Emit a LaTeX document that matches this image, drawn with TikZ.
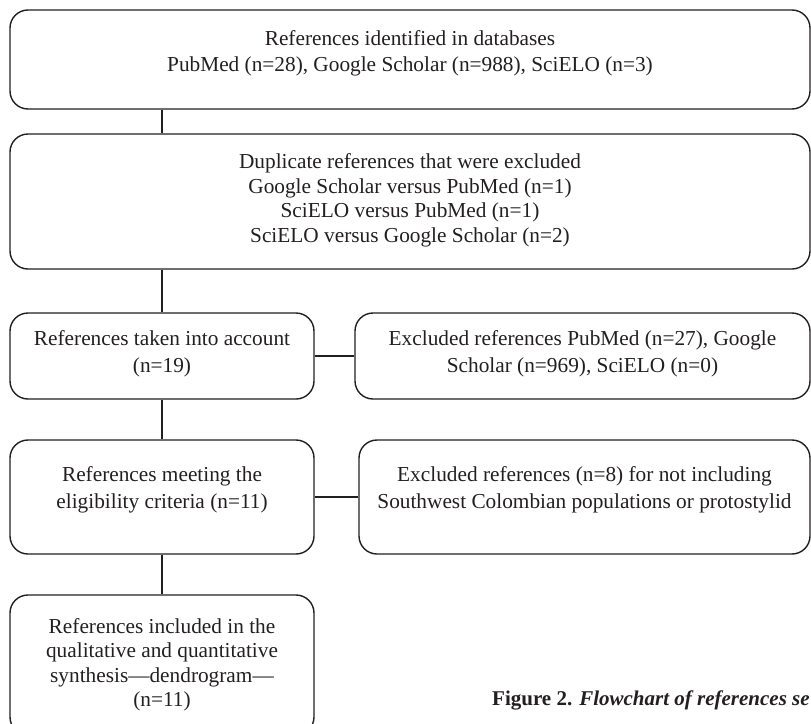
\documentclass[tikz,border=0pt]{standalone}
\usepackage{fontspec}
\setmainfont{Liberation Serif}
\definecolor{flow_line}{RGB}{35, 31, 32}
\definecolor{flow_text}{RGB}{35, 31, 32}
\usepackage{tikz}
\usetikzlibrary{positioning, calc}

\begin{document}
\begin{tikzpicture}[x=1pt, y=-1pt,
    box/.style={draw=flow_line, line width=1.4pt, rounded corners=18pt,
      align=center, text=flow_text, inner sep=0pt, text depth=5pt,
      font=\fontsize{21.3}{26.5}\selectfont},
    tight/.style={font=\fontsize{21.3}{24.4}\selectfont},
    link/.style={draw=flow_line, line width=1.4pt}]
  \useasboundingbox (0,0) rectangle (811,723);
  \clip (0,0) rectangle (811,723);

  % --- Search ---
  \node[box, text depth=17pt, minimum width=800pt, minimum height=99pt]
    (ident) at (410,59.5)
    {References identified in databases\\
     PubMed (n=28), Google Scholar (n=988), SciELO (n=3)};

  % --- Duplicates ---
  \node[box, tight, text depth=7pt, minimum width=800pt, minimum height=135pt]
    (dupl) at (410,201.5)
    {Duplicate references that were excluded\\
     Google Scholar versus PubMed (n=1)\\
     SciELO versus PubMed (n=1)\\
     SciELO versus Google Scholar (n=2)};

  % --- Screening ---
  \node[box, text depth=9pt, minimum width=304pt, minimum height=86pt]
    (taken) at (162,356)
    {References taken into account\\(n=19)};
  \node[box, text depth=9pt, minimum width=455pt, minimum height=86pt]
    (excl_a) at (582.5,356)
    {Excluded references PubMed (n=27), Google\\
     Scholar (n=969), SciELO (n=0)};

  % --- Eligibility ---
  \node[box, text depth=19pt, minimum width=304pt, minimum height=114pt]
    (elig) at (162,497)
    {References meeting the\\eligibility criteria (n=11)};
  \node[box, text depth=19pt, minimum width=451pt, minimum height=114pt]
    (excl_b) at (584.5,497)
    {Excluded references (n=8) for not including\\
     Southwest Colombian populations or protostylid};

  % --- Included ---
  \node[box, tight, minimum width=304pt, minimum height=140pt]
    (incl) at (162,665)
    {References included in the\\
     qualitative and quantitative\\
     synthesis—dendrogram—\\
     (n=11)};

  % --- Connectors ---
  \draw[link] (ident.south -| taken.north) -- (dupl.north -| taken.north);
  \draw[link] (dupl.south -| taken.north) -- (taken.north);
  \draw[link] (taken.east) -- (excl_a.west);
  \draw[link] (taken.south) -- (elig.north);
  \draw[link] (elig.east) -- (excl_b.west);
  \draw[link] (elig.south) -- (incl.north);

  % --- Caption ---
  \node[anchor=base west, inner sep=0pt, text=flow_text,
        font=\fontsize{21}{24}\selectfont\bfseries] (caption) at (492,705)
    {Figure 2. \textit{Flowchart of references se}};
\end{tikzpicture}
\end{document}
